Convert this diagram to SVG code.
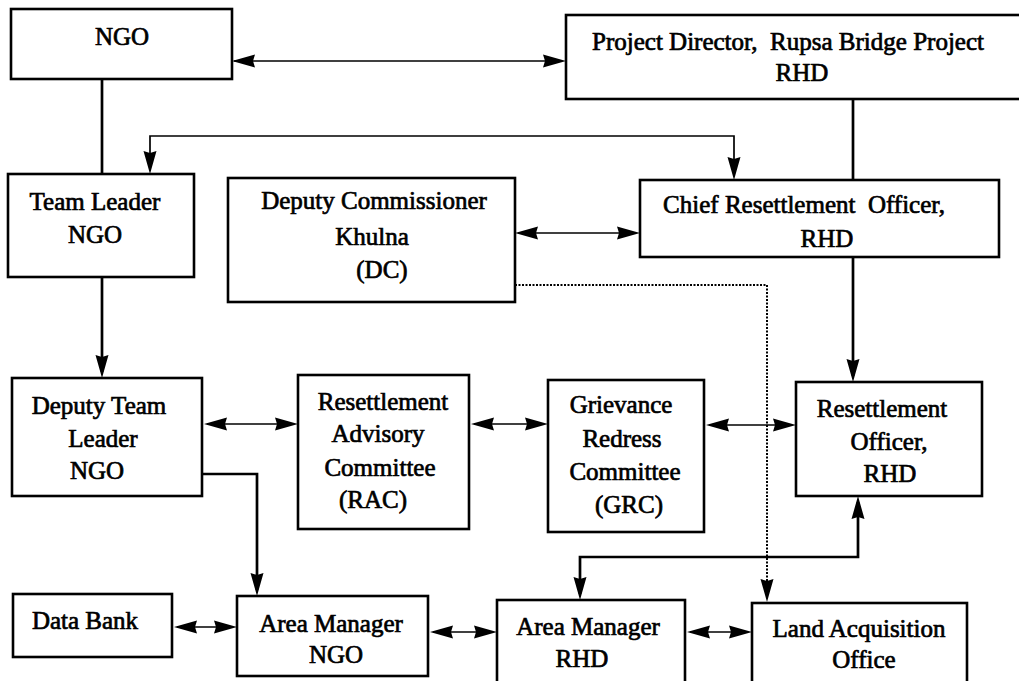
<svg xmlns="http://www.w3.org/2000/svg" width="1019" height="681" viewBox="0 0 1019 681">
<style>
.box{fill:#fff;stroke:#000;stroke-width:2.6}
text{font-family:"Liberation Serif","Times New Roman","DejaVu Serif",serif;font-size:25px;fill:#000;text-anchor:middle;stroke:#000;stroke-width:0.7;white-space:pre}
.thin{fill:none;stroke:#000;stroke-width:1.7}
.thick{fill:none;stroke:#000;stroke-width:2.7}
.dot{fill:none;stroke:#000;stroke-width:2;stroke-dasharray:2 1.5}
.head{fill:#000}
</style>
<defs>
<path id="head" d="M0,0 L-23,-6.5 L-21,0 L-23,6.5 z"/>
</defs>
<rect width="1019" height="681" fill="#fff"/>
<g id="connectors">
<line class="thin" x1="234" y1="61" x2="562" y2="61"/>
<line class="thick" x1="102" y1="79" x2="102" y2="174"/>
<path class="thin" d="M150,170 L150,136 L734,136 L734,176"/>
<line class="thick" x1="853" y1="99" x2="853" y2="180"/>
<line class="thin" x1="518" y1="233" x2="636" y2="233"/>
<path class="dot" d="M515,285 L767,285 L767,596"/>
<line class="thick" x1="853" y1="257" x2="853" y2="376"/>
<line class="thick" x1="102" y1="277" x2="102" y2="372"/>
<line class="thin" x1="207" y1="424" x2="294" y2="424"/>
<line class="thin" x1="474" y1="424" x2="544" y2="424"/>
<line class="thin" x1="709" y1="425" x2="792" y2="425"/>
<path class="thick" d="M858,502 L858,557 L580,557 L580,594"/>
<path class="thick" d="M202,474 L257,474 L257,590"/>
<line class="thin" x1="177" y1="627" x2="233" y2="627"/>
<line class="thin" x1="433" y1="632" x2="493" y2="632"/>
<line class="thin" x1="690" y1="632" x2="748" y2="632"/>
<g id="arrowheads" class="head">
<use href="#head" transform="translate(232,61) rotate(180)"/>
<use href="#head" transform="translate(566,61)"/>
<use href="#head" transform="translate(150,174) rotate(90)"/>
<use href="#head" transform="translate(734,180) rotate(90)"/>
<use href="#head" transform="translate(515,233) rotate(180)"/>
<use href="#head" transform="translate(640,233)"/>
<use href="#head" transform="translate(767,602) rotate(90)"/>
<use href="#head" transform="translate(853,382) rotate(90)"/>
<use href="#head" transform="translate(102,378) rotate(90)"/>
<use href="#head" transform="translate(204,424) rotate(180)"/>
<use href="#head" transform="translate(298,424)"/>
<use href="#head" transform="translate(471,424) rotate(180)"/>
<use href="#head" transform="translate(548,424)"/>
<use href="#head" transform="translate(706,425) rotate(180)"/>
<use href="#head" transform="translate(796,425)"/>
<use href="#head" transform="translate(858,496) rotate(-90)"/>
<use href="#head" transform="translate(580,600) rotate(90)"/>
<use href="#head" transform="translate(257,596) rotate(90)"/>
<use href="#head" transform="translate(174,627) rotate(180)"/>
<use href="#head" transform="translate(237,627)"/>
<use href="#head" transform="translate(430,632) rotate(180)"/>
<use href="#head" transform="translate(497,632)"/>
<use href="#head" transform="translate(687,632) rotate(180)"/>
<use href="#head" transform="translate(752,632)"/>
</g>
</g>
<g id="ngo">
<rect class="box" x="11" y="9" width="221" height="70"/>
<text x="122" y="45">NGO</text>
</g>
<g id="project-director">
<rect class="box" x="566" y="15" width="460" height="84"/>
<text x="788" y="50">Project Director,  Rupsa Bridge Project</text>
<text x="802" y="81">RHD</text>
</g>
<g id="team-leader">
<rect class="box" x="8" y="174" width="186" height="103"/>
<text x="95" y="210">Team Leader</text>
<text x="95" y="243">NGO</text>
</g>
<g id="deputy-commissioner">
<rect class="box" x="228" y="178" width="287" height="124"/>
<text x="374" y="209">Deputy Commissioner</text>
<text x="372" y="245">Khulna</text>
<text x="382" y="278">(DC)</text>
</g>
<g id="chief-resettlement-officer">
<rect class="box" x="640" y="180" width="359" height="77"/>
<text x="804" y="213">Chief Resettlement  Officer,</text>
<text x="827" y="247">RHD</text>
</g>
<g id="deputy-team-leader">
<rect class="box" x="12" y="378" width="190" height="118"/>
<text x="99" y="414">Deputy Team</text>
<text x="103" y="447">Leader</text>
<text x="97" y="479">NGO</text>
</g>
<g id="rac">
<rect class="box" x="298" y="375" width="171" height="154"/>
<text x="383" y="410">Resettlement</text>
<text x="378" y="442">Advisory</text>
<text x="380" y="476">Committee</text>
<text x="373" y="508">(RAC)</text>
</g>
<g id="grc">
<rect class="box" x="548" y="380" width="156" height="152"/>
<text x="621" y="413">Grievance</text>
<text x="622" y="447">Redress</text>
<text x="625" y="480">Committee</text>
<text x="629" y="513">(GRC)</text>
</g>
<g id="resettlement-officer">
<rect class="box" x="796" y="382" width="186" height="114"/>
<text x="882" y="417">Resettlement</text>
<text x="889" y="450">Officer,</text>
<text x="890" y="482">RHD</text>
</g>
<g id="data-bank">
<rect class="box" x="13" y="594" width="159" height="63"/>
<text x="85" y="629">Data Bank</text>
</g>
<g id="area-manager-ngo">
<rect class="box" x="237" y="596" width="191" height="80"/>
<text x="331" y="632">Area Manager</text>
<text x="336" y="663">NGO</text>
</g>
<g id="area-manager-rhd">
<rect class="box" x="497" y="600" width="188" height="95"/>
<text x="588" y="635">Area Manager</text>
<text x="582" y="667">RHD</text>
</g>
<g id="land-acquisition-office">
<rect class="box" x="752" y="603" width="215" height="92"/>
<text x="859" y="637">Land Acquisition</text>
<text x="864" y="668">Office</text>
</g>
</svg>
